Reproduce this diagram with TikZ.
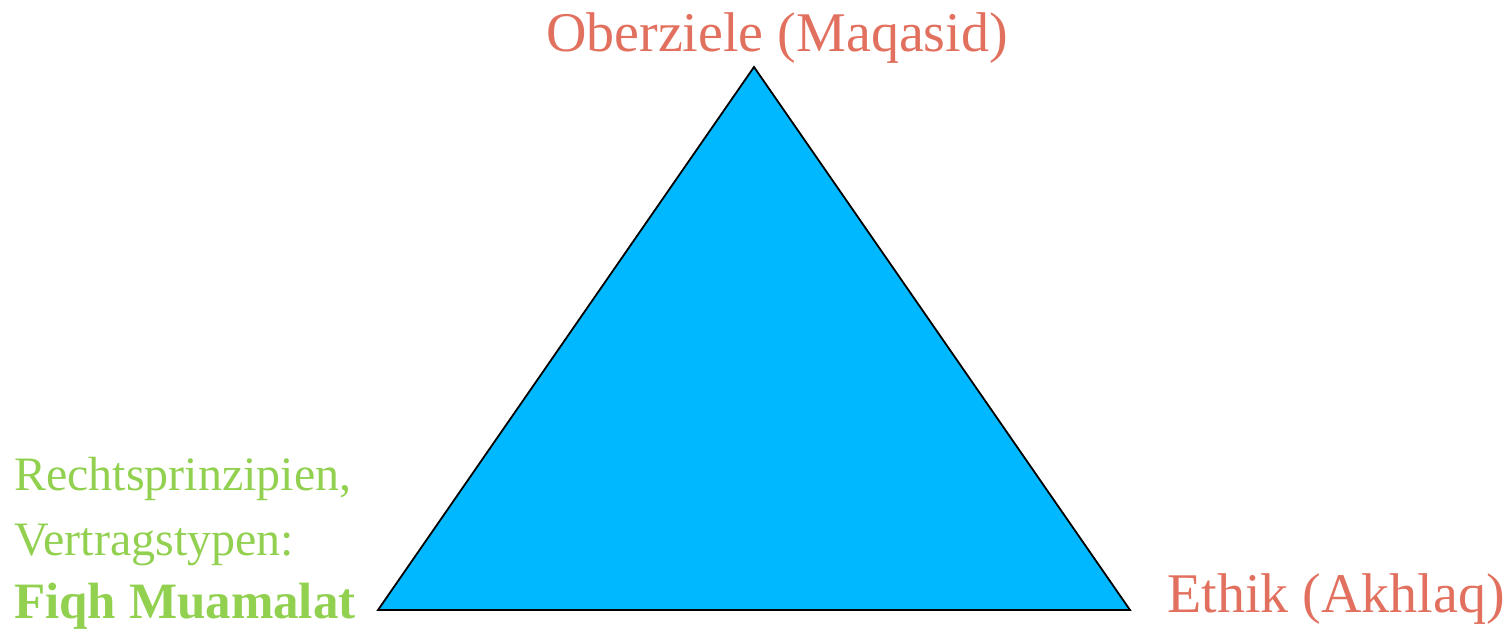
\documentclass[tikz,border=0pt]{standalone}
\usepackage{fontspec}
\setmainfont{Liberation Serif}
\definecolor{salmon}{HTML}{E2705F}
\definecolor{leaf}{HTML}{92D050}
\definecolor{sky}{HTML}{00B8FF}
\tikzset{
  red label/.style={text=salmon, inner sep=0pt, font=\fontsize{56}{66}\selectfont},
  green label/.style={text=leaf, inner sep=0pt, font=\fontsize{48}{64}\selectfont},
  tri/.style={fill=sky, draw=black, line width=1.8pt, line join=miter}
}
\begin{document}
\begin{tikzpicture}[x=1pt,y=-1pt]
\useasboundingbox (0,0) rectangle (1506,631);
\coordinate (apex) at (754,67);
\coordinate (bl) at (378,610);
\coordinate (br) at (1130,610);
\draw[tri] (apex) -- (bl) -- (br) -- cycle;
\node[red label, anchor=base] (top) at (777,52) {Oberziele (Maqasid)};
\node[red label, anchor=base west] (right) at (1167,612) {Ethik (Akhlaq)};
\node[green label, anchor=base west] (l1) at (14,490) {Rechtsprinzipien,};
\node[green label, anchor=base west] (l2) at (14,555) {Vertragstypen:};
\node[green label, anchor=base west, font=\fontsize{51}{64}\selectfont\bfseries] (l3) at (14,618) {Fiqh Muamalat};
\end{tikzpicture}
\end{document}
